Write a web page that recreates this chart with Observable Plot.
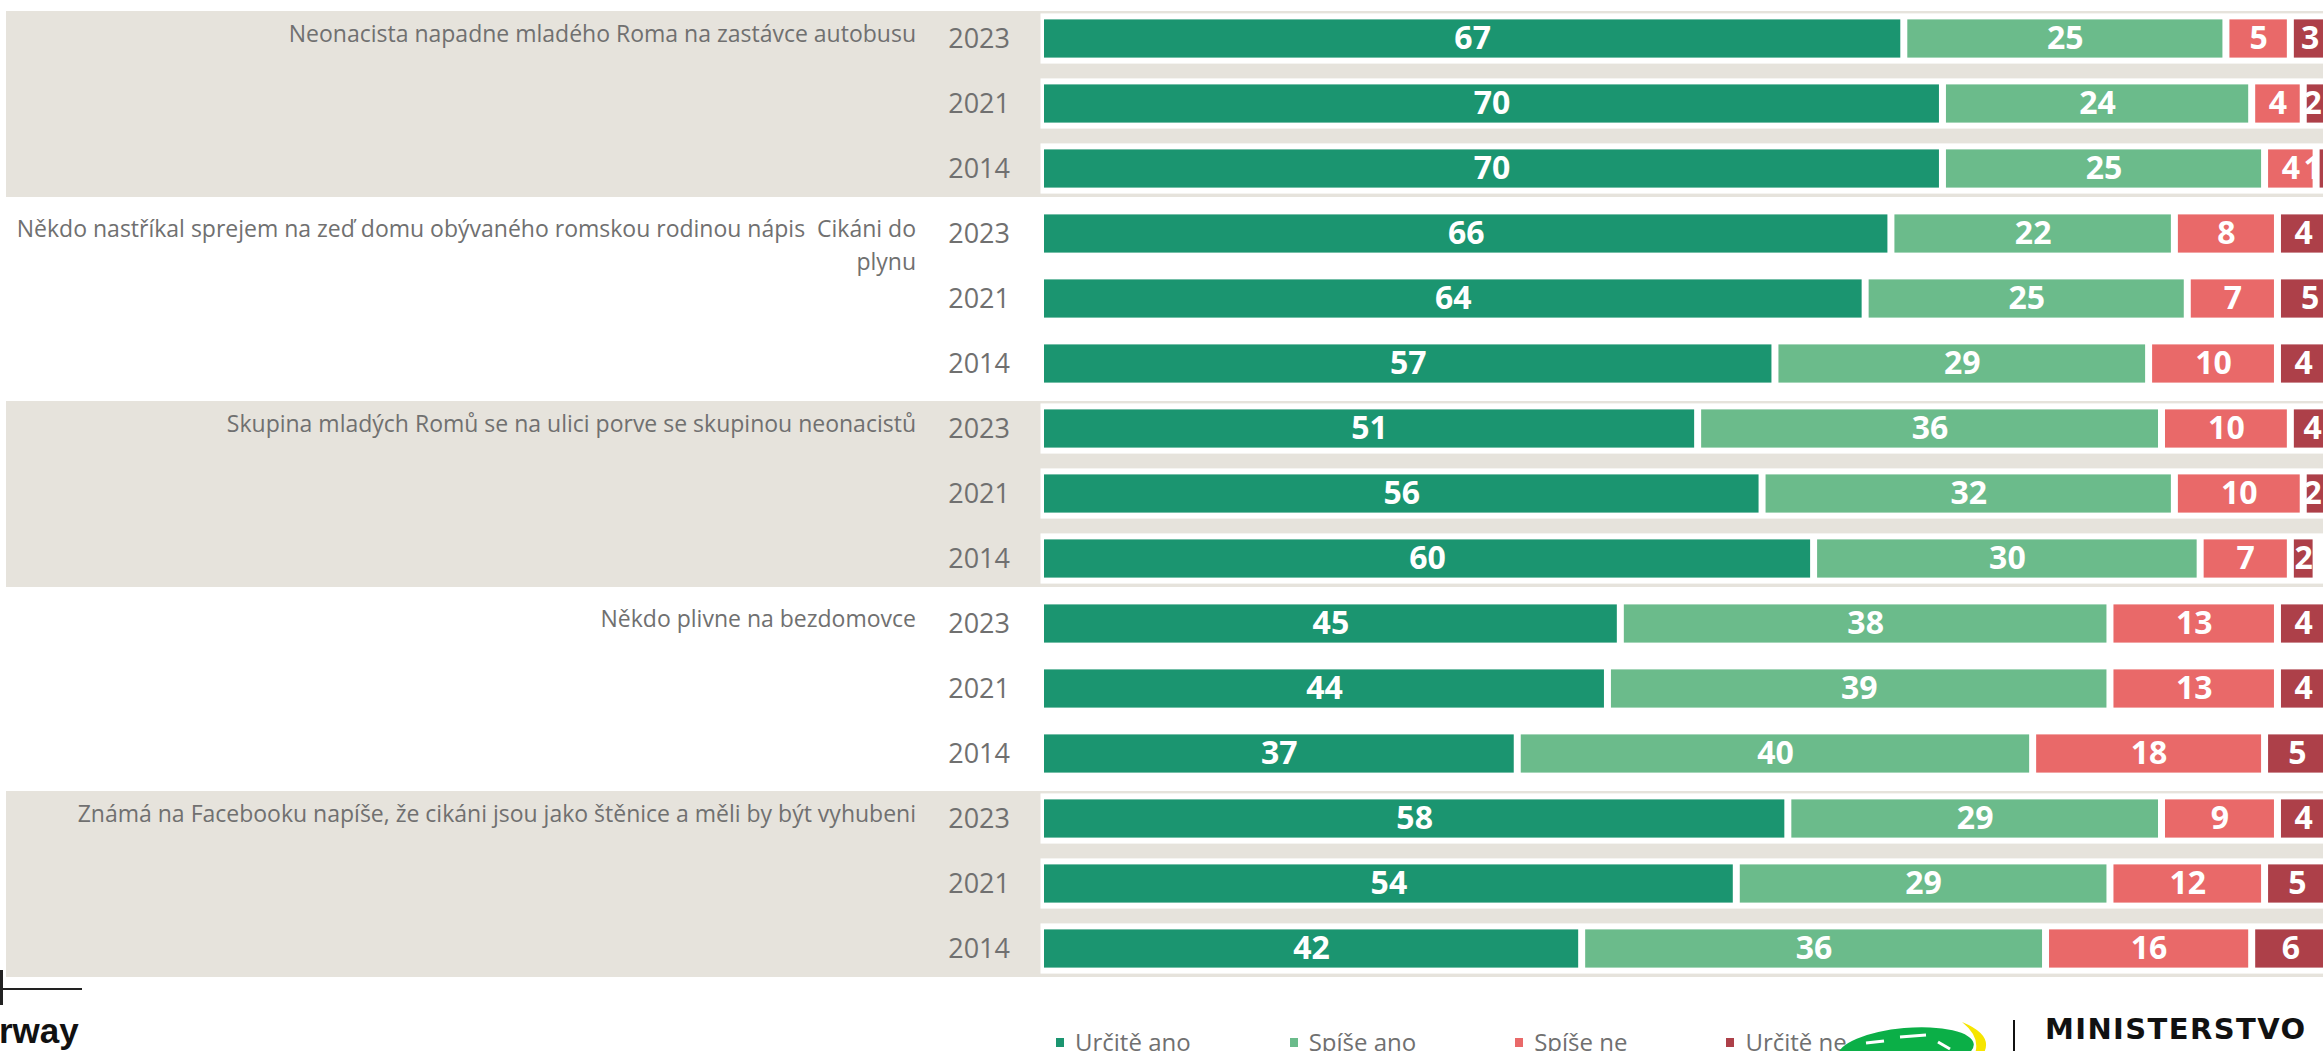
<!DOCTYPE html>
<html>
<head>
<meta charset="utf-8">
<script src="https://cdn.jsdelivr.net/npm/d3@7"></script>
<script src="https://cdn.jsdelivr.net/npm/@observablehq/plot@0.6"></script>
<style>
  html, body { margin: 0; padding: 0; background: #fff; width: 2323px; height: 1051px; overflow: hidden; position: relative; font-family: "Open Sans", sans-serif; }
  #chart svg { display: block; }
  #legend { display: flex; align-items: center; padding-left: 1056px; padding-top: 27px; line-height: 30px; font-size: 24px; color: #707070; }
  #legend .item { display: flex; align-items: center; margin-right: 99px; white-space: nowrap; }
  #legend .sw { width: 8px; height: 9px; margin-right: 11px; display: inline-block; }
  .deco { position: absolute; }
</style>
</head>
<body>
<div id="chart"></div>
<div id="legend"></div>

<!-- cropped sponsor logos at the bottom edge -->
<div class="deco" style="left:0;top:970px;width:3px;height:35px;background:#222"></div>
<div class="deco" style="left:0;top:988px;width:82px;height:2px;background:#222"></div>
<div class="deco" style="left:-1px;top:1013px;font:bold 35px 'Liberation Sans',Arial,sans-serif;line-height:35px;color:#111">rway</div>
<svg class="deco" style="left:1830px;top:1016px" width="170" height="40">
  <ellipse cx="76" cy="34" rx="68" ry="22" transform="rotate(-5 76 34)" fill="#0BAF47"/>
  <path d="M36 27 L54 25" stroke="#fff" stroke-width="3"/>
  <path d="M70 21 L96 19" stroke="#fff" stroke-width="3"/>
  <path d="M108 26 L120 33" stroke="#fff" stroke-width="3"/>
  <path d="M132 6 Q166 20 152 40 L144 40 Q152 22 132 6 Z" fill="#F6E500"/>
</svg>
<div class="deco" style="left:2013px;top:1020px;width:2px;height:40px;background:#111"></div>
<div class="deco" style="left:2045px;top:1015px;font:bold 29px 'DejaVu Sans',sans-serif;line-height:29px;letter-spacing:1.4px;color:#111">MINISTERSTVO</div>

<script>
// ---- data ----
const questions = [
  "Neonacista napadne mladého Roma na zastávce autobusu",
  "Někdo nastříkal sprejem na zeď domu obývaného romskou rodinou nápis\u00a0 Cikáni do\nplynu",
  "Skupina mladých Romů se na ulici porve se skupinou neonacistů",
  "Někdo plivne na bezdomovce",
  "Známá na Facebooku napíše, že cikáni jsou jako štěnice a měli by být vyhubeni"
];
const years = ["2023", "2021", "2014"];
const categories = ["Určitě ano", "Spíše ano", "Spíše ne", "Určitě ne"];
const colors = ["#1B9570", "#6BBB8B", "#E96969", "#AD4049"];

// one value per row: questions x years (2023, 2021, 2014)
const urciteAno = [67, 70, 70, 66, 64, 57, 51, 56, 60, 45, 44, 37, 58, 54, 42];
const spiseAno  = [25, 24, 25, 22, 25, 29, 36, 32, 30, 38, 39, 40, 29, 29, 36];
const spiseNe   = [ 5,  4,  4,  8,  7, 10, 10, 10,  7, 13, 13, 18,  9, 12, 16];
const urciteNe  = [ 3,  2,  1,  4,  5,  4,  4,  2,  2,  4,  4,  5,  4,  5,  6];

// ---- build tables ----
const series = [urciteAno, spiseAno, spiseNe, urciteNe];
const rows = questions.flatMap((q, qi) => years.map((yr, yi) => ({key: qi + "|" + yr, qi, yi, year: yr})));
const long = rows.flatMap((r, ri) => {
  let acc = 0;
  return categories.map((c, ci) => {
    const v = series[ci][ri];
    const d = {key: r.key, cat: c, value: v, mid: acc + v / 2};
    acc += v;
    return d;
  });
});
// data labels stay inside the plot area (as the original chart tool does)
const labelX = d => Math.min(d.mid, 98.7);

const beige = "#E6E3DC";
const gray = "#707070";
const shadedRows = rows.filter(r => r.qi % 2 === 0);

const chart = Plot.plot({
  width: 2323,
  height: 1000,
  marginLeft: 0, marginRight: 0, marginTop: 0, marginBottom: 0,
  style: {fontFamily: "Open Sans, sans-serif", background: "transparent"},
  x: {domain: [0, 100], range: [1040.5, 2329], axis: null},
  y: {domain: rows.map(r => r.key), range: [0, 987], padding: 0, axis: null},
  color: {domain: categories, range: colors},
  marks: [
    // beige group backgrounds
    Plot.cell(shadedRows.filter(r => r.yi === 0), {y: "key", fill: beige, insetLeft: 6, insetTop: 5}),
    Plot.cell(shadedRows.filter(r => r.yi === 1), {y: "key", fill: beige, insetLeft: 6}),
    Plot.cell(shadedRows.filter(r => r.yi === 2), {y: "key", fill: beige, insetLeft: 6, insetBottom: 4}),
    // white box behind each bar
    Plot.barX(rows, {y: "key", x1: 0, x2: 100, fill: "white", insetTop: 7.4, insetBottom: 7.4}),
    // stacked bars
    Plot.barX(long, Plot.stackX({y: "key", x: "value", fill: "cat", insetLeft: 3.5, insetRight: 3.5, insetTop: 13.4, insetBottom: 13.4})),
    // values
    Plot.text(long, {y: "key", x: labelX, text: d => String(d.value), fill: "white", fontWeight: "bold", fontSize: 32}),
    // year labels
    Plot.text(rows, {y: "key", x: 0, text: "year", textAnchor: "end", dx: -31, fill: gray, fontSize: 27}),
    // question labels
    Plot.text(rows.filter(r => r.yi === 0), {y: "key", x: 0, text: d => questions[d.qi], textAnchor: "end", lineAnchor: "top", dy: -20, lineHeight: 1.42, dx: -125, fill: gray, fontSize: 23})
  ]
});
document.getElementById("chart").appendChild(chart);

// legend
const legend = document.getElementById("legend");
categories.forEach((c, i) => {
  const item = document.createElement("div");
  item.className = "item";
  const sw = document.createElement("span");
  sw.className = "sw";
  sw.style.background = colors[i];
  item.appendChild(sw);
  item.appendChild(document.createTextNode(c));
  legend.appendChild(item);
});
</script>
</body>
</html>
